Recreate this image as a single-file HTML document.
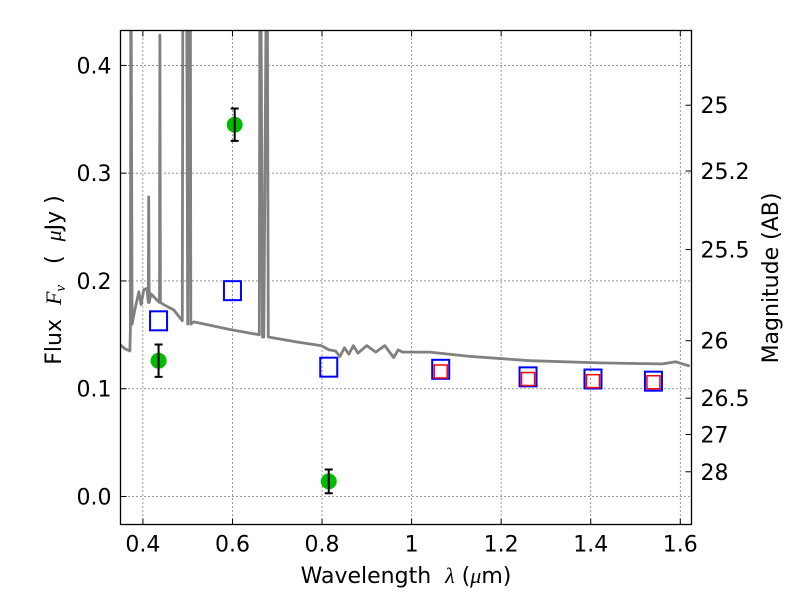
<!DOCTYPE html>
<html><head><meta charset="utf-8"><style>
body{margin:0;background:#fff}
svg text{font-family:"DejaVu Sans","Liberation Sans",sans-serif;}
</style></head><body>
<svg id="chart" width="800" height="600" xmlns="http://www.w3.org/2000/svg">
<rect width="800" height="600" fill="#fff"/>
<g id="grid"></g>
<g id="sed"></g>
<g id="marks"></g>
<rect x="120.5" y="30.5" width="571" height="494" fill="none" stroke="#000" stroke-width="1.3"/>
<g id="axes"></g>
<text x="406" y="583" font-size="22" text-anchor="middle" xml:space="preserve">Wavelength  <tspan font-style="italic" font-family="Liberation Serif,serif">λ</tspan> (<tspan font-style="italic" font-family="Liberation Serif,serif">μ</tspan>m)</text>
<text transform="translate(61,280) rotate(-90)" font-size="22" text-anchor="middle" xml:space="preserve">Flux  <tspan font-style="italic" font-family="Liberation Serif,serif">F<tspan font-size="15" dy="4">ν</tspan></tspan><tspan dy="-4">   (  </tspan><tspan font-style="italic" font-family="Liberation Serif,serif">μ</tspan>Jy )</text>
<text transform="translate(778,278) rotate(-90)" font-size="22" text-anchor="middle">Magnitude (AB)</text>
</svg>
<script>
const xTicks=[0.4,0.6,0.8,1.0,1.2,1.4,1.6];
const xTickLabels=["0.4","0.6","0.8","1","1.2","1.4","1.6"];
const yTicks=[0.0,0.1,0.2,0.3,0.4];
const yTickLabels=["0.0","0.1","0.2","0.3","0.4"];
const magTicks=[25,25.2,25.5,26,26.5,27,28];
const magTickLabels=["25","25.2","25.5","26","26.5","27","28"];
const sedWl=[0.346,0.360,0.371,0.372,0.373,0.374,0.376,0.382,0.391,0.396,0.402,0.409,0.412,0.413,0.414,0.418,0.425,0.437,0.438,0.439,0.447,0.469,0.488,0.489,0.490,0.498,0.500,0.503,0.506,0.507,0.514,0.593,0.660,0.661,0.664,0.667,0.670,0.675,0.678,0.680,0.749,0.798,0.816,0.83,0.84,0.85,0.86,0.87,0.88,0.90,0.92,0.94,0.96,0.97,0.98,1.04,1.13,1.264,1.42,1.56,1.59,1.621];
const sedFlux=[0.142,0.137,0.135,0.155,0.44,0.44,0.16,0.173,0.190,0.178,0.192,0.193,0.180,0.278,0.180,0.188,0.185,0.18,0.428,0.18,0.178,0.173,0.163,0.44,0.44,0.44,0.16,0.44,0.44,0.16,0.162,0.155,0.150,0.44,0.44,0.148,0.148,0.44,0.44,0.148,0.143,0.140,0.136,0.135,0.130,0.138,0.132,0.140,0.133,0.140,0.134,0.140,0.129,0.136,0.134,0.134,0.130,0.126,0.124,0.123,0.125,0.121];
const circWl=[0.435,0.605,0.815];
const circFlux=[0.126,0.345,0.014];
const circErr=[0.015,0.015,0.011];
const blueWl=[0.435,0.600,0.815,1.065,1.260,1.405,1.540];
const blueFlux=[0.163,0.191,0.120,0.118,0.111,0.109,0.107];
const redWl=[1.065,1.260,1.405,1.540];
const redFlux=[0.116,0.109,0.107,0.106];

const NS="http://www.w3.org/2000/svg";
const X0=120.5,X1=691.5,Y0=30.5,Y1=524.5;
const xmin=0.35,xmax=1.625,ymin=-0.026,ymax=0.4324;
const sx=v=>X0+(v-xmin)/(xmax-xmin)*(X1-X0);
const sy=v=>Y1-(v-ymin)/(ymax-ymin)*(Y1-Y0);
const magToFlux=m=>Math.pow(10,(23.9-m)/2.5);
function mk(tag,attrs,parent){const e=document.createElementNS(NS,tag);for(const k in attrs)e.setAttribute(k,attrs[k]);parent.appendChild(e);return e;}
const grid=document.getElementById('grid'),axes=document.getElementById('axes');
const sedG=document.getElementById('sed'),marks=document.getElementById('marks');
xTicks.forEach((t,i)=>{const x=sx(t);
 const g=mk('line',{x1:x,x2:x,y1:Y0,y2:Y1,stroke:'#000','stroke-width':0.8,'stroke-dasharray':'1,3'},grid);
 
 mk('line',{x1:x,x2:x,y1:Y1,y2:Y1-6,stroke:'#000'},axes);mk('line',{x1:x,x2:x,y1:Y0,y2:Y0+6,stroke:'#000'},axes);
 const tx=mk('text',{x:x,y:Y1+27,'font-size':22,'text-anchor':'middle'},axes);tx.textContent=xTickLabels[i];
 });
yTicks.forEach((t,i)=>{const y=sy(t);
 const g=mk('line',{x1:X0,x2:X1,y1:y,y2:y,stroke:'#000','stroke-width':0.8,'stroke-dasharray':'1,3'},grid);
 
 mk('line',{x1:X0,x2:X0+6,y1:y,y2:y,stroke:'#000'},axes);
 const tx=mk('text',{x:X0-9,y:y+8,'font-size':22,'text-anchor':'end'},axes);tx.textContent=yTickLabels[i];
 });
magTicks.forEach((m,i)=>{const y=sy(magToFlux(m));
 mk('line',{x1:X1,x2:X1-6,y1:y,y2:y,stroke:'#000'},axes);
 const tx=mk('text',{x:X1+9,y:y+8,'font-size':22},axes);tx.textContent=magTickLabels[i];
 });
const cp=mk('clipPath',{id:'clip'},document.getElementById('chart'));
mk('rect',{x:X0,y:Y0,width:X1-X0,height:Y1-Y0},cp);
const sedPath=mk('path',{d:sedWl.map((w,i)=>(i?'L':'M')+sx(w).toFixed(1)+','+sy(sedFlux[i]).toFixed(1)).join(''),fill:'none',stroke:'#808080','stroke-width':2.8,'clip-path':'url(#clip)','stroke-linejoin':'round'},sedG);

blueWl.forEach((w,i)=>{const r=mk('rect',{x:sx(w)-8.5,y:sy(blueFlux[i])-9.5,width:17,height:19,fill:'none',stroke:'#0000ff','stroke-width':2},marks);
 });
redWl.forEach((w,i)=>{const r=mk('rect',{x:sx(w)-6.5,y:sy(redFlux[i])-6.5,width:13,height:13,fill:'none',stroke:'#ff0000','stroke-width':1.5},marks);
 });
circWl.forEach((w,i)=>{const x=sx(w),y=sy(circFlux[i]),yt=sy(circFlux[i]+circErr[i]),yb=sy(circFlux[i]-circErr[i]);
 const c=mk('circle',{cx:x,cy:y,r:8,fill:'#00bb00'},marks);
 
 const e=mk('path',{d:`M${x},${yt}L${x},${yb}M${x-4},${yt}L${x+4},${yt}M${x-4},${yb}L${x+4},${yb}`,stroke:'#000','stroke-width':2,fill:'none'},marks);
 });
</script>
</body></html>
